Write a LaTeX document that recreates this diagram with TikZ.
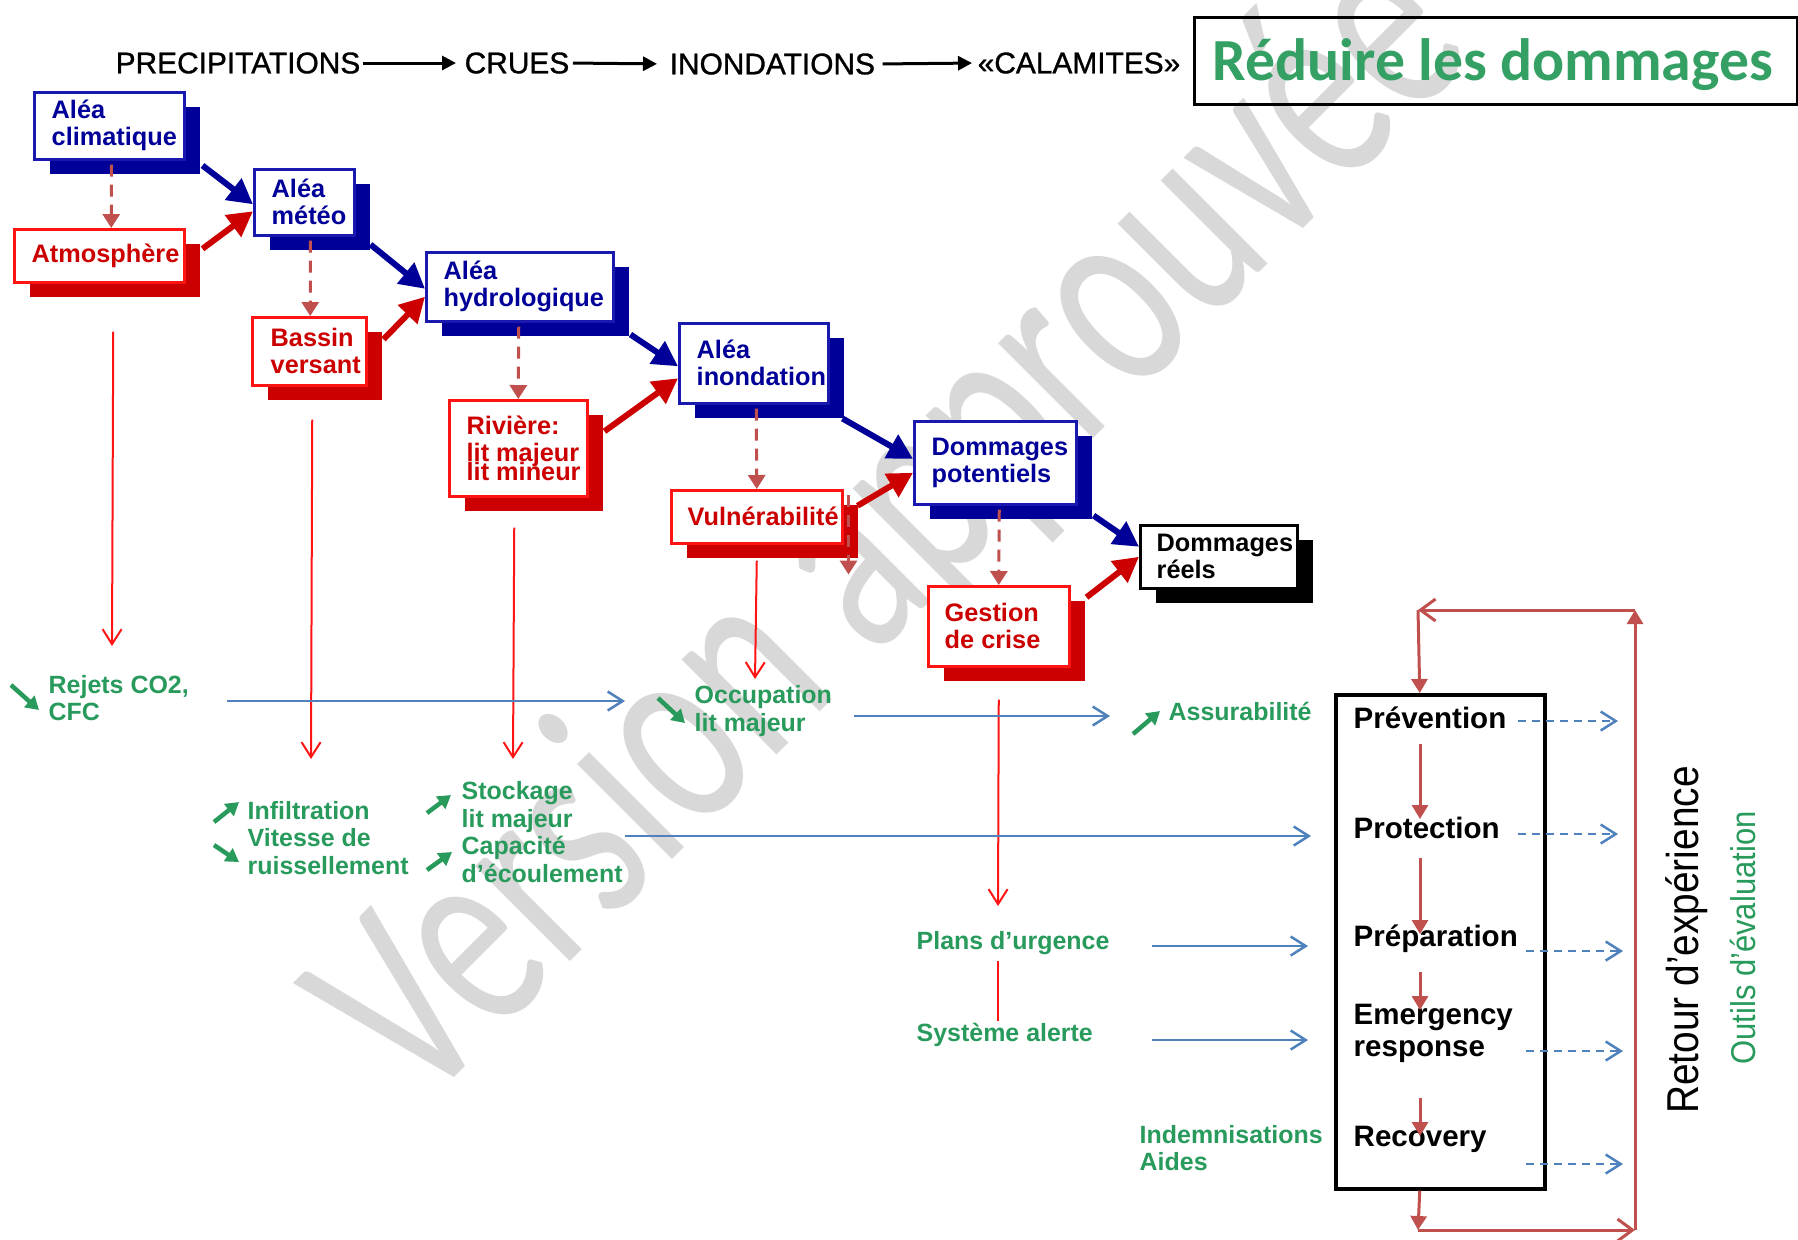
\documentclass[tikz,border=0pt]{standalone}
\usepackage{fontspec}
\setmainfont{Liberation Sans}
\newfontfamily\calibfont{Carlito}
\newfontfamily\wmfont[FakeStretch=0.7]{Carlito}
\newfontfamily\narrowfont[FakeStretch=0.87]{Liberation Sans}
\newfontfamily\outilsfont[FakeStretch=0.9]{Liberation Sans}
\newfontfamily\hdrfont[FakeBold=1]{Liberation Sans}
\usetikzlibrary{arrows.meta,shadows}
\definecolor{navy}{RGB}{0,0,153}
\definecolor{navyline}{RGB}{25,25,175}
\definecolor{dred}{RGB}{204,0,0}
\definecolor{bred}{RGB}{255,20,20}
\definecolor{dashred}{RGB}{192,80,77}
\definecolor{lblue}{RGB}{79,129,189}
\definecolor{grn}{RGB}{40,155,92}
\definecolor{ttlgrn}{RGB}{52,160,100}
\definecolor{wmgray}{RGB}{216,216,216}
\begin{document}
\begin{tikzpicture}[x=0.1mm,y=-0.1mm,
  bluebox/.style={draw=navyline, line width=0.25mm, fill=white, inner sep=0, anchor=north west, drop shadow={shadow xshift=1.6mm, shadow yshift=-1.5mm, fill=navy, opacity=1}},
  redbox/.style={draw=bred, line width=0.25mm, fill=white, inner sep=0, anchor=north west, drop shadow={shadow xshift=1.6mm, shadow yshift=-1.5mm, fill=dred, opacity=1}},
  blackbox/.style={draw=black, line width=0.25mm, fill=white, inner sep=0, anchor=north west, drop shadow={shadow xshift=1.6mm, shadow yshift=-1.5mm, fill=black, opacity=1}},
  boxtxt/.style={font=\fontsize{7.2}{7.7}\selectfont\bfseries, align=left, inner sep=0, anchor=west},
  btxt/.style={boxtxt, text=navy},
  rtxt/.style={boxtxt, text=dred},
  ktxt/.style={boxtxt, text=black},
  bthick/.style={draw=navy, line width=0.6mm, -{Triangle[length=2.5mm,width=2.6mm]}},
  rthick/.style={draw=dred, line width=0.6mm, -{Triangle[length=2.5mm,width=2.6mm]}},
  dasharr/.style={draw=dashred, line width=0.3mm, dash pattern=on 1.2mm off 0.8mm, -{Triangle[length=1.4mm,width=1.7mm]}},
  rthin/.style={draw=bred, line width=0.2mm, -{Straight Barb[length=1.5mm,width=1.9mm]}},
  uthin/.style={draw=lblue, line width=0.25mm, -{Straight Barb[length=1.5mm,width=1.9mm]}},
  udash/.style={uthin, dash pattern=on 0.8mm off 0.6mm},
  garr/.style={draw=grn, line width=0.45mm, -{Triangle[length=1.3mm,width=1.5mm]}},
  glab/.style={font=\fontsize{7.1}{7.8}\selectfont\bfseries, text=grn, align=left, inner sep=0, anchor=west},
  hdr/.style={font=\hdrfont\fontsize{8.5}{9}\selectfont, inner sep=0, anchor=west},
  hdrarr/.style={draw=black, line width=0.3mm, -{Triangle[length=1.4mm,width=1.4mm]}},
  ptxt/.style={font=\fontsize{8.4}{9.1}\selectfont\bfseries, align=left, inner sep=0, anchor=west},
  inarr/.style={draw=dashred, line width=0.3mm, -{Triangle[length=1.4mm,width=1.6mm]}},
  loopv/.style={draw=dashred, line width=0.3mm, -{Triangle[length=1.4mm,width=1.6mm]}},
  looph/.style={draw=dashred, line width=0.3mm, -{Straight Barb[length=1.5mm,width=2.2mm]}}
]
\fill[white] (0,0) rectangle (1798,1239);
\useasboundingbox (0,0) rectangle (1798,1239);

% watermark
\node[font=\wmfont\fontsize{80}{80}\selectfont, text=wmgray, rotate=45, anchor=base west, inner sep=0] (wm) at (420,1112) {Version approuvée};

% header
\node[hdr] (h1) at (115,63) {PRECIPITATIONS};
\node[hdr] (h2) at (464,63) {CRUES};
\node[hdr] (h3) at (669,64) {INONDATIONS};
\node[hdr] (h4) at (977,63) {«CALAMITES»};
\draw[hdrarr, shorten <=0.2mm, shorten >=0.8mm] (h1.east) -- (h2.west);
\draw[hdrarr, shorten <=0.3mm, shorten >=1.2mm] (h2.east) -- (h3.west);
\draw[hdrarr, shorten <=0.7mm, shorten >=0.5mm] (h3.east) -- (h4.west);

% title
\node[draw=black, line width=0.3mm, minimum width=60.3mm, minimum height=8.7mm, anchor=north west, inner sep=0] (title) at (1193,16) {};
\node[font=\calibfont\bfseries\fontsize{17}{20}\selectfont, text=ttlgrn, anchor=base west, inner sep=0] (titlet) at ([shift={(19,64)}]title.north west) {Réduire les dommages};

% boxes
\node[bluebox, minimum width=15mm, minimum height=6.7mm] (b1) at (33,91) {};
\node[redbox, minimum width=17mm, minimum height=5.3mm] (r1) at (13,228) {};
\node[bluebox, minimum width=10mm, minimum height=6.6mm] (b2) at (253,168) {};
\node[redbox, minimum width=11.4mm, minimum height=6.8mm] (r2) at (251,316) {};
\node[bluebox, minimum width=18.7mm, minimum height=6.9mm] (b3) at (425,251) {};
\node[redbox, minimum width=13.8mm, minimum height=9.6mm] (r3) at (448,399) {};
\node[bluebox, minimum width=14.9mm, minimum height=8mm] (b4) at (678,322) {};
\node[redbox, minimum width=17.1mm, minimum height=5.3mm] (r4) at (670,489) {};
\node[bluebox, minimum width=16.2mm, minimum height=8.3mm] (b5) at (913,420) {};
\node[redbox, minimum width=14.1mm, minimum height=8mm] (r5) at (927,585) {};
\node[blackbox, minimum width=15.7mm, minimum height=6.3mm] (b6) at (1139,524) {};

\node[btxt] (b1t) at ([shift={(18,0)}]b1.west) {Aléa\\climatique};
\node[rtxt] (r1t) at ([shift={(18,0)}]r1.west) {Atmosphère};
\node[btxt] (b2t) at ([shift={(18,0)}]b2.west) {Aléa\\météo};
\node[rtxt] (r2t) at ([shift={(19,0)}]r2.west) {Bassin\\versant};
\node[btxt] (b3t) at ([shift={(18,0)}]b3.west) {Aléa\\hydrologique};
\node[rtxt] (r3t) at ([shift={(18,0)}]r3.west) {Rivière:\\lit majeur\\[-2.3pt]lit mineur};
\node[btxt] (b4t) at ([shift={(18,0)}]b4.west) {Aléa\\inondation};
\node[rtxt] (r4t) at ([shift={(17,0)}]r4.west) {Vulnérabilité};
\node[btxt] (b5t) at ([shift={(18,0)}]b5.west) {Dommages\\potentiels};
\node[rtxt] (r5t) at ([shift={(17,0)}]r5.west) {Gestion\\de crise};
\node[ktxt] (b6t) at ([shift={(17,0)}]b6.west) {Dommages\\réels};

% thick arrows
\draw[bthick] ([shift={(17,5)}]b1.south east) -- ([shift={(0,2)}]b2.west);
\draw[rthick] ([shift={(17,-7)}]r1.east) -- ([shift={(0,9)}]b2.west);
\draw[bthick] ([shift={(15,8)}]b2.south east) -- ([shift={(0,2)}]b3.west);
\draw[rthick] ([shift={(16,-12)}]r2.east) -- ([shift={(0,10)}]b3.west);
\draw[bthick] ([shift={(16,12)}]b3.south east) -- ([shift={(0,3)}]b4.west);
\draw[rthick] ([shift={(16,-17)}]r3.east) -- ([shift={(0,15)}]b4.west);
\draw[bthick] ([shift={(13,14)}]b4.south east) -- ([shift={(0,-4)}]b5.west);
\draw[rthick] ([shift={(14,-11)}]r4.east) -- ([shift={(0,10)}]b5.west);
\draw[bthick] ([shift={(16,10)}]b5.south east) -- ([shift={(0,-10)}]b6.west);
\draw[rthick] ([shift={(16,-29)}]r5.east) -- ([shift={(0,0)}]b6.west);

% dashed arrows
\draw[dasharr] ([shift={(2,4)}]b1.south) -- ([shift={(12,0)}]r1.north);
\draw[dasharr] ([shift={(6,4)}]b2.south) -- ([shift={(1,0)}]r2.north);
\draw[dasharr] ([shift={(-1,4)}]b3.south) -- ([shift={(0,0)}]r3.north);
\draw[dasharr] ([shift={(2.5,4)}]b4.south) -- ([shift={(0,0)}]r4.north);
\draw[dasharr] ([shift={(4,4)}]b5.south) -- ([shift={(0,0)}]r5.north);
\draw[dasharr] ([shift={(5,6)}]r4.north east) -- ([shift={(5,30)}]r4.south east);

% free ends
\coordinate (e1) at (112,646);
\coordinate (e2) at (311,759);
\coordinate (e3) at (513,759);
\coordinate (e4) at (755,679);
\coordinate (e5) at (998,906);
\coordinate (l1a) at (998,961);
\coordinate (l1b) at (998,1021);
\coordinate (u1a) at (227,701); \coordinate (u1b) at (625,701);
\coordinate (u2a) at (854,716); \coordinate (u2b) at (1110,716);
\coordinate (u3a) at (625,836); \coordinate (u3b) at (1311,836);
\coordinate (u4a) at (1152,946); \coordinate (u4b) at (1308,946);
\coordinate (u5a) at (1152,1040); \coordinate (u5b) at (1308,1040);

% thin red arrows
\draw[rthin] ([shift={(14,48)}]r1.south) -- (e1);
\draw[rthin] ([shift={(3,33)}]r2.south) -- (e2);
\draw[rthin] ([shift={(-4,30)}]r3.south) -- (e3);
\draw[rthin] ([shift={(0,16)}]r4.south) -- (e4);
\draw[rthin] ([shift={(0,32)}]r5.south) -- (e5);

% thin blue arrows
\draw[uthin] (u1a) -- (u1b);
\draw[uthin] (u2a) -- (u2b);
\draw[uthin] (u3a) -- (u3b);
\draw[uthin] (u4a) -- (u4b);
\draw[uthin] (u5a) -- (u5b);

% green labels
\node[glab] (rej) at (48,698) {Rejets CO2,\\CFC};
\node[glab] (inf) at (247,838) {Infiltration\\Vitesse de\\ruissellement};
\node[glab] (sto) at (461,832) {Stockage\\lit majeur\\Capacité\\d’écoulement};
\node[glab] (occ) at (694,711) {Occupation\\lit majeur};
\node[glab] (ass) at (1168,711) {Assurabilité};
\node[glab] (plans) at (916,943) {Plans d’urgence};
\node[glab] (sys) at (916,1035) {Système alerte};
\node[glab] (ind) at (1139,1148) {Indemnisations\\Aides};
\draw[bred, line width=0.2mm] (l1a) -- (l1b);

\draw[garr] ([shift={(-37,-13)}]rej.west) -- ([shift={(-9,12)}]rej.west);
\draw[garr] ([shift={(-33,-16)}]inf.west) -- ([shift={(-8,-36)}]inf.west);
\draw[garr] ([shift={(-33,7)}]inf.west) -- ([shift={(-8,24)}]inf.west);
\draw[garr] ([shift={(-34,-19)}]sto.west) -- ([shift={(-10,-37)}]sto.west);
\draw[garr] ([shift={(-34,38)}]sto.west) -- ([shift={(-9,20)}]sto.west);
\draw[garr] ([shift={(-36,-13)}]occ.west) -- ([shift={(-9,12)}]occ.west);
\draw[garr] ([shift={(-35,23)}]ass.west) -- ([shift={(-8,0)}]ass.west);

% phases box
\node[draw=black, line width=0.35mm, minimum width=20.9mm, minimum height=49.4mm, anchor=north west, inner sep=0] (pbox) at (1334,693) {};
\node[ptxt] (p1) at (1353,718) {Prévention};
\node[ptxt] (p2) at (1353,828) {Protection};
\node[ptxt] (p3) at (1353,939) {Préparation};
\node[ptxt] (p4) at (1353,1033) {Emergency\\response};
\node[ptxt] (p5) at (1353,1139) {Recovery};

\draw[inarr] ([shift={(67,26)}]p1.west) -- ([shift={(67,-9)}]p2.west);
\draw[inarr] ([shift={(67,30)}]p2.west) -- ([shift={(67,-5)}]p3.west);
\draw[inarr] ([shift={(67,33)}]p3.west) -- ([shift={(67,-23)}]p4.west);
\draw[inarr] ([shift={(67,-41)}]p5.west) -- ([shift={(67,-3)}]p5.west);

\coordinate (d1a) at (1518,721); \coordinate (d1b) at (1618,721);
\coordinate (d2a) at (1518,834); \coordinate (d2b) at (1618,834);
\coordinate (d3a) at (1526,951); \coordinate (d3b) at (1623,951);
\coordinate (d4a) at (1526,1051); \coordinate (d4b) at (1623,1051);
\coordinate (d5a) at (1526,1164); \coordinate (d5b) at (1623,1164);
\draw[udash] (d1a) -- (d1b);
\draw[udash] (d2a) -- (d2b);
\draw[udash] (d3a) -- (d3b);
\draw[udash] (d4a) -- (d4b);
\draw[udash] (d5a) -- (d5b);

% feedback loop
\coordinate (lpA) at (1418,1230);
\coordinate (lpB) at (1635,1230);
\coordinate (lpC) at (1635,610);
\coordinate (lpD) at (1418,610);
\draw[loopv] ([shift={(-20.5,0)}]pbox.south) -- (lpA);
\draw[looph] (lpA) -- (lpB);
\draw[loopv] (lpB) -- (lpC);
\draw[looph] (lpC) -- (lpD);
\draw[loopv] (lpD) -- ([shift={(-20.5,0)}]pbox.north);

% rotated labels
\node[font=\narrowfont\fontsize{12.7}{13}\selectfont, rotate=90, inner sep=0] (ret) at (1687,940) {Retour d’expérience};
\node[font=\outilsfont\fontsize{9.8}{10}\selectfont, text=grn, rotate=90, inner sep=0] (out) at (1743,938) {Outils d’évaluation};
\end{tikzpicture}
\end{document}
